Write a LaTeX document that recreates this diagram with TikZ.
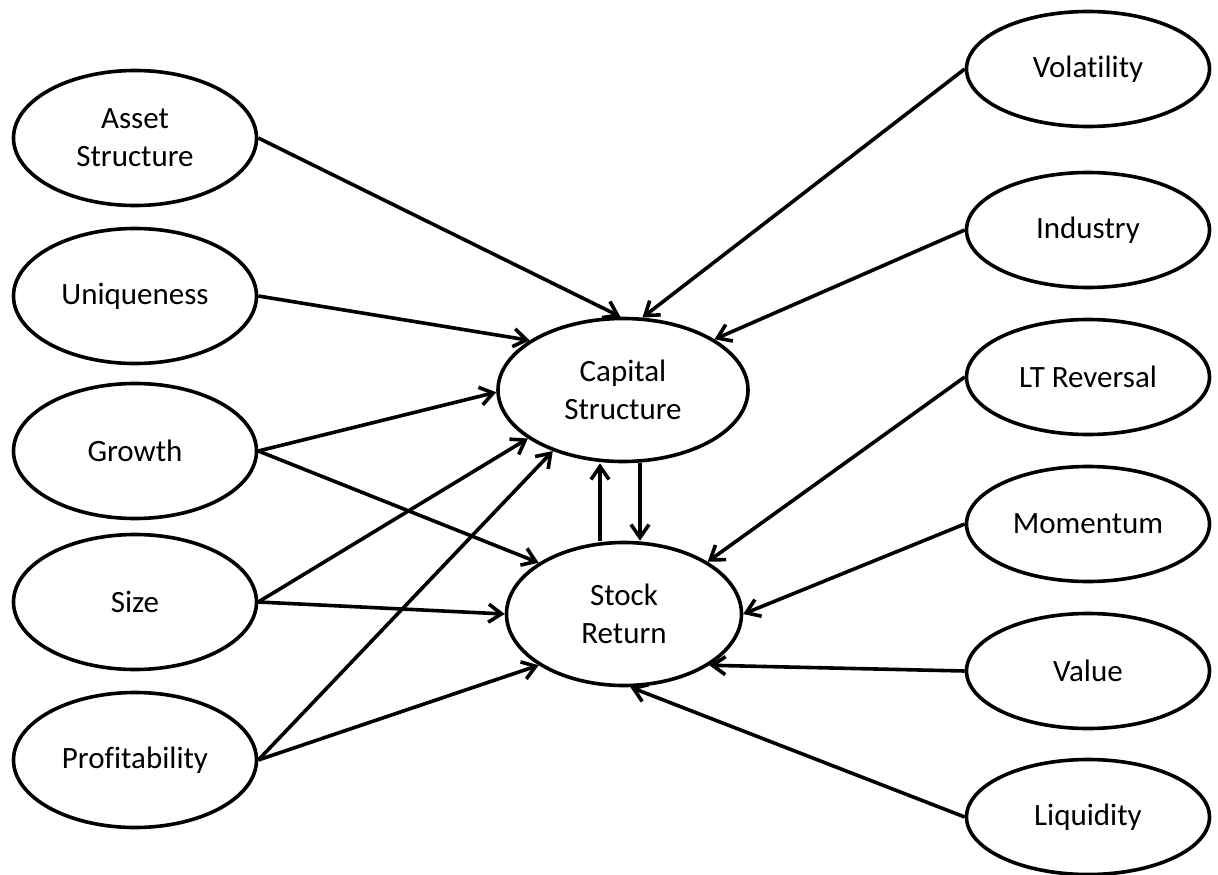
\documentclass[tikz,border=0pt]{standalone}
\usepackage{fontspec}
\setmainfont{Carlito}[Ligatures=NoCommon]
\usetikzlibrary{shapes.geometric,arrows.meta}

\tikzset{
  factor/.style={draw,ellipse,inner sep=0pt,align=center,
    minimum width=243pt,minimum height=135pt,font=\fontsize{31}{38}\selectfont},
  anomaly/.style={factor,minimum height=115pt},
  core/.style={factor,minimum width=250pt,minimum height=143pt},
  link/.style={-{Straight Barb[length=13pt,width=18pt]}}
}

\begin{document}
\begin{tikzpicture}[x=1pt,y=-1pt,line width=3.6pt]
	\useasboundingbox (0,0) rectangle (1218,875);
	% firm characteristics
	\node[factor] (asset) at (135,138) {Asset\\Structure};
	\node[factor] (uniq)  at (135,296) {Uniqueness};
	\node[factor] (grow)  at (135,451) {Growth};
	\node[factor] (size)  at (135,602) {Size};
	\node[factor] (prof)  at (135,760) {Profitability};
	% centre
	\node[core] (cap) at (623,390) {Capital\\Structure};
	\node[core,minimum width=235pt] (ret) at (624,614) {Stock\\Return};
	% market factors
	\node[anomaly] (vol)  at (1088,69)  {Volatility};
	\node[anomaly] (ind)  at (1088,230) {Industry};
	\node[anomaly] (ltr)  at (1088,377) {LT Reversal};
	\node[anomaly] (mom)  at (1088,524) {Momentum};
	\node[anomaly] (val)  at (1088,671) {Value};
	\node[anomaly] (liq)  at (1088,817) {Liquidity};
	% into capital structure
	\draw[link] (asset.east) -- (cap.92);
	\draw[link] (uniq.east) -- (cap.152);
	\draw[link] (grow.east) -- (cap.181);
	\draw[link] (size.east) -- (cap.207);
	\draw[link] (prof.east) -- (cap.221);
	\draw[link] (vol.west) -- (cap.75);
	\draw[link] (ind.west) -- (cap.29);
	% into stock return
	\draw[link] (grow.east) -- (ret.149);
	\draw[link] (size.east) -- (ret.180);
	\draw[link] (prof.east) -- (ret.211);
	\draw[link] (ltr.west) -- (ret.32);
	\draw[link] (mom.west) -- (ret.0);
	\draw[link] (val.west) -- (ret.329);
	\draw[link] (liq.west) -- (ret.275);
	% feedback
	\draw[link] ([xshift=-24pt]ret.north) -- ([xshift=-23pt]cap.south);
	\draw[link] ([xshift=17pt]cap.south) -- ([xshift=16pt]ret.north);
\end{tikzpicture}
\end{document}
